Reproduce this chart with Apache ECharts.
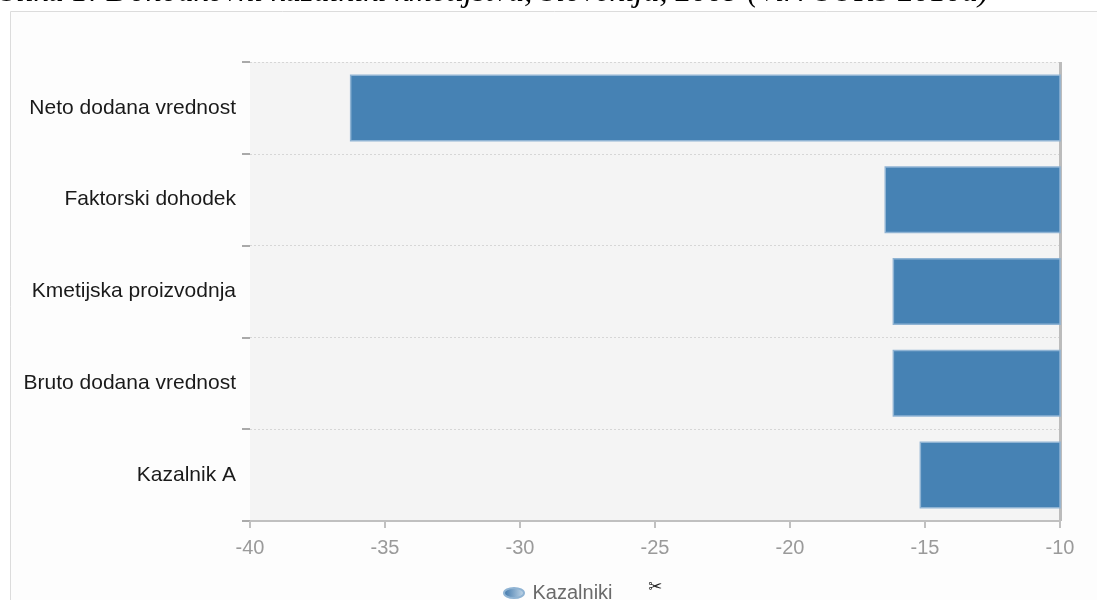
<!DOCTYPE html>
<html><head><meta charset="utf-8">
<script src="https://cdn.jsdelivr.net/npm/echarts@6/dist/echarts.min.js"></script>
<style>html,body{margin:0;padding:0;background:#fff}#c{width:1097px;height:600px}</style>
</head><body><div id="c"></div>
<script>
const categories = ['Neto dodana vrednost','Faktorski dohodek','Kmetijska proizvodnja','Bruto dodana vrednost','Kazalnik A'];
const values = [-36.3, -16.5, -16.2, -16.2, -15.2];
const seriesName = 'Kazalniki';
const titleText = 'Slika 1: Dohodkovni kazalniki kmetijstva, Slovenija, 2009 (Vir: SURS 2010a)';

const chart = echarts.init(document.getElementById('c'));
chart.setOption({
  animation: false,
  backgroundColor: '#fff',
  graphic: [
    {type:'rect', z:-10, shape:{x:10.5,y:11.5,width:1200,height:700}, style:{fill:'#fdfdfd', stroke:'#dcdcdc', lineWidth:1}},
    {type:'text', left:0, top:-23, style:{text:titleText, font:'italic 32px "Liberation Serif"', fill:'#000'}},
    {type:'text', left:648, top:579, style:{text:'\u2702', font:'17px "DejaVu Sans"', fill:'#222'}}
  ],
  grid: {left:250, right:37, top:62, bottom:79, show:true, backgroundColor:'#f4f4f4', borderWidth:0},
  legend: {
    data:[seriesName], left:498, top:578, itemWidth:23, itemHeight:10, itemGap:6,
    icon:'path://M0,5 A10,5 0 1,1 20,5 A10,5 0 1,1 0,5 Z',
    itemStyle:{color:new echarts.graphic.LinearGradient(0,0,1,0,[{offset:0,color:'#3a73a8'},{offset:1,color:'#c9dcec'}])},
    textStyle:{color:'#6a6a6a', fontSize:20, fontFamily:'Liberation Sans', padding:[0,0,0,2]}
  },
  xAxis: {
    type:'value', min:-40, max:-10, interval:5,
    axisLine:{show:true, lineStyle:{color:'#c0c0c0', width:2}},
    axisTick:{show:true, length:7, lineStyle:{color:'#c0c0c0', width:2}},
    axisLabel:{color:'#9a9a9a', fontSize:20, fontFamily:'Liberation Sans', margin:17},
    splitLine:{show:true, lineStyle:{color:['rgba(0,0,0,0)','rgba(0,0,0,0)','rgba(0,0,0,0)','rgba(0,0,0,0)','rgba(0,0,0,0)','rgba(0,0,0,0)','#bcbcbc'], width:3}}
  },
  yAxis: {
    type:'category', data:categories, inverse:true,
    axisLine:{show:false},
    axisTick:{show:true, length:8, lineStyle:{color:'#aaa', width:2}},
    axisLabel:{color:'#1a1a1a', fontSize:21, fontFamily:'Liberation Sans', margin:14},
    splitLine:{show:true, lineStyle:{color:'#d6d6d6', type:[2,2], width:1}}
  },
  series: [{
    name:seriesName, type:'bar', data:values, clip:true,
    barCategoryGap:'27%',
    itemStyle:{color:'#4682b4', borderColor:'#8fb3d3', borderWidth:1.5},
    z:3
  }]
});
</script></body></html>
